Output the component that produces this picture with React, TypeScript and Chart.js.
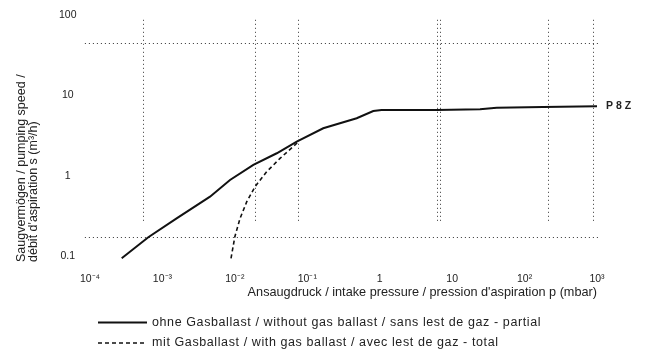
import { useEffect, useRef } from 'react';
import { Chart, registerables } from 'chart.js';

Chart.register(...registerables);

const FONT = '"Liberation Sans", Arial, sans-serif';

// Axis ticks
const xTicks = [1e-4, 1e-3, 1e-2, 1e-1, 1, 10, 100, 1000];
const xTickLabels = ['10⁻⁴', '10⁻³', '10⁻²', '10⁻¹', '1', '10', '10²', '10³'];
const yTicks = [0.1, 1, 10, 100];
const yTickLabels = ['0.1', '1', '10', '100'];

// Series: ohne Gasballast (partial)
const partialPressure = [2.74e-4, 6.38e-4, 1.57e-3, 4.54e-3, 8.57e-3, 0.018, 0.0379, 0.0715, 0.166, 0.481, 0.815, 1.06, 6.12, 24.3, 41.2, 180, 1000];
const partialSpeed = [0.0936, 0.171, 0.294, 0.547, 0.883, 1.36, 1.9, 2.65, 3.89, 5.18, 6.38, 6.57, 6.57, 6.7, 7.02, 7.16, 7.31];

// Series: mit Gasballast (total)
const totalPressure = [8.85e-3, 0.01, 0.0118, 0.0146, 0.019, 0.0275, 0.042, 0.0676, 0.0752];
const totalSpeed = [0.0936, 0.174, 0.294, 0.474, 0.73, 1.12, 1.64, 2.41, 2.65];

// Dotted reference grid of the original sheet
const gridX = [5.4e-4, 0.019, 0.0745, 6.18, 6.8, 210, 881];
const gridXSpan = [0.26, 87];
const gridY = [0.174, 44.5];
const gridYSpan = [8.5e-5, 1100];

const seriesLabels = [
  'ohne Gasballast / without gas ballast / sans lest de gaz - partial',
  'mit Gasballast / with gas ballast / avec lest de gaz - total',
];
const curveLabel = 'P 8 Z';

const gridPlugin = {
  id: 'dottedGrid',
  beforeDatasetsDraw(chart: any) {
    const { ctx, scales } = chart;
    const xs = scales.x;
    const ys = scales.y;
    ctx.save();
    ctx.strokeStyle = '#333';
    ctx.lineWidth = 1;
    ctx.setLineDash([1, 3]);
    for (const v of gridX) {
      const px = Math.round(xs.getPixelForValue(v)) + 0.5;
      ctx.beginPath();
      ctx.moveTo(px, ys.getPixelForValue(gridXSpan[1]));
      ctx.lineTo(px, ys.getPixelForValue(gridXSpan[0]));
      ctx.stroke();
    }
    for (const v of gridY) {
      const py = Math.round(ys.getPixelForValue(v)) + 0.5;
      ctx.beginPath();
      ctx.moveTo(xs.getPixelForValue(gridYSpan[0]), py);
      ctx.lineTo(xs.getPixelForValue(gridYSpan[1]), py);
      ctx.stroke();
    }
    ctx.restore();
  },
};

const annotatePlugin = {
  id: 'annotate',
  afterDraw(chart: any) {
    const { ctx } = chart;
    ctx.save();
    // curve label at end of partial curve
    const meta = chart.getDatasetMeta(0);
    const last = meta.data[meta.data.length - 1];
    ctx.fillStyle = '#222';
    ctx.font = `bold 10.5px ${FONT}`;
    ctx.textBaseline = 'middle';
    ctx.textAlign = 'left';
    ctx.fillText(curveLabel, last.x + 9, last.y);

    // legend
    const rows = [322.5, 343];
    chart.data.datasets.forEach((ds: any, i: number) => {
      const y = rows[i];
      ctx.strokeStyle = ds.borderColor;
      ctx.lineWidth = ds.borderWidth;
      ctx.setLineDash(ds.borderDash || []);
      ctx.beginPath();
      ctx.moveTo(98, y);
      ctx.lineTo(147, y);
      ctx.stroke();
      ctx.setLineDash([]);
      ctx.fillStyle = '#222';
      ctx.font = `12.5px ${FONT}`;
      try { (ctx as any).letterSpacing = '0.6px'; } catch (e) { /* ignore */ }
      ctx.fillText(ds.label, 152, y);
      try { (ctx as any).letterSpacing = '0px'; } catch (e) { /* ignore */ }
    });
    ctx.restore();
  },
};

export default function App() {
  const ref = useRef<HTMLCanvasElement>(null);
  useEffect(() => {
    document.body.style.margin = '0';
    const chart = new Chart(ref.current as HTMLCanvasElement, {
      type: 'line',
      data: {
        datasets: [
          {
            label: seriesLabels[0],
            data: partialPressure.map((p, i) => ({ x: p, y: partialSpeed[i] })),
            borderColor: '#111',
            borderWidth: 2,
            pointRadius: 0,
            tension: 0,
          },
          {
            label: seriesLabels[1],
            data: totalPressure.map((p, i) => ({ x: p, y: totalSpeed[i] })),
            borderColor: '#111',
            borderWidth: 1.6,
            borderDash: [4, 3],
            pointRadius: 0,
            tension: 0,
          },
        ],
      },
      options: {
        responsive: false,
        animation: false,
        layout: { padding: { top: 8, right: 54, bottom: 60, left: 0 } },
        plugins: { legend: { display: false }, tooltip: { enabled: false } },
        scales: {
          x: {
            type: 'logarithmic',
            min: 1e-4,
            max: 1000,
            grid: { display: false, drawTicks: false },
            border: { display: false },
            afterFit: (s: any) => {
              s.height = 38;
              s.paddingLeft = 0;
              s.paddingRight = 0;
            },
            afterBuildTicks: (s: any) => { s.ticks = xTicks.map((v) => ({ value: v })); },
            ticks: {
              autoSkip: false,
              maxRotation: 0,
              padding: 11,
              color: '#222',
              font: { family: FONT, size: 10.5 },
              callback: (_v: any, i: number) => xTickLabels[i],
            },
            title: {
              display: true,
              text: 'Ansaugdruck / intake pressure / pression d\'aspiration p (mbar)',
              align: 'end',
              color: '#222',
              padding: { top: 0, bottom: 0 },
              font: { family: FONT, size: 12.7 },
            },
          },
          y: {
            type: 'logarithmic',
            min: 0.0842,
            max: 122,
            grid: { display: false, drawTicks: false },
            border: { display: false },
            afterFit: (s: any) => {
              s.width = 90;
              s.paddingTop = 0;
              s.paddingBottom = 0;
            },
            afterBuildTicks: (s: any) => { s.ticks = yTicks.map((v) => ({ value: v })); },
            ticks: {
              autoSkip: false,
              crossAlign: 'center',
              padding: 13.5,
              color: '#222',
              font: { family: FONT, size: 10.5 },
              callback: (_v: any, i: number) => yTickLabels[i],
            },
            title: {
              display: true,
              text: ['Saugvermögen / pumping speed /', 'débit d\'aspiration s (m³/h)'],
              align: 'start',
              color: '#222',
              padding: { top: 16, bottom: 0 },
              font: { family: FONT, size: 12.5, lineHeight: 0.96 },
            },
          },
        },
      },
      plugins: [gridPlugin, annotatePlugin],
    } as any);
    return () => chart.destroy();
  }, []);
  return (
    <div style={{ width: 651, height: 360, background: '#fff' }}>
      <canvas ref={ref} width={651} height={360} style={{ display: 'block', width: 651, height: 360 }} />
    </div>
  );
}
